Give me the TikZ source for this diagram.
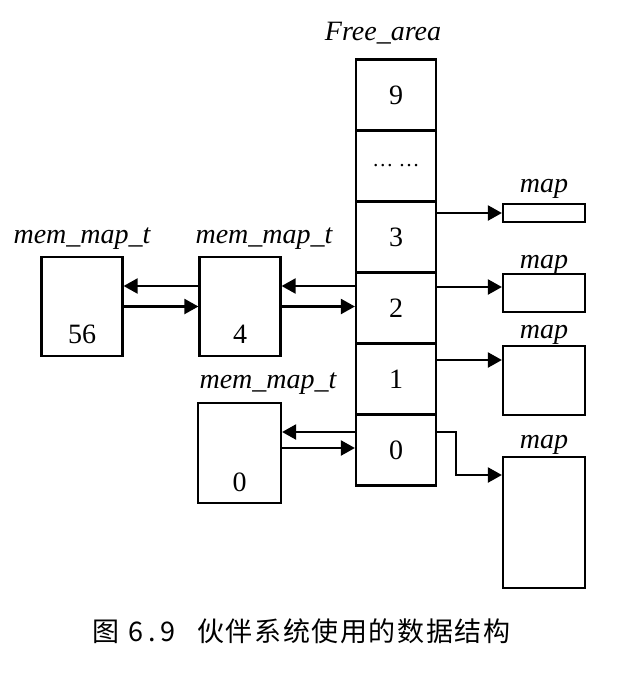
\documentclass[tikz,border=0pt]{standalone}
\usepackage{fontspec}
\setmainfont{Liberation Serif}
\newfontfamily\cjk[LetterSpace=6]{Noto Sans CJK SC}
\newfontfamily\cjkd[LetterSpace=18]{Noto Sans CJK SC}
\usetikzlibrary{arrows.meta}
\begin{document}
\begin{tikzpicture}[x=1pt,y=-1pt,
  box/.style={draw, line width=2.2pt, inner sep=0pt},
  cell/.style={box, minimum width=80pt, minimum height=71pt, font=\fontsize{28}{30}\selectfont},
  lbl/.style={inner sep=0pt, anchor=base, font=\fontsize{28}{30}\selectfont\itshape},
  num/.style={inner sep=0pt, anchor=base, font=\fontsize{28}{30}\selectfont},
  captxt/.style={inner sep=0pt, anchor=base west},
  arr/.style={line width=2.2pt, -{Triangle[length=14pt,width=15pt]}}]
\useasboundingbox (0,0) rectangle (632,678);
% Free_area column
\node[cell] (c9) at (396,95) {9};
\node[cell] (cd) at (396,166) {\fontsize{21}{24}\selectfont\ldots\ \ldots};
\node[cell] (c3) at (396,237) {3};
\node[cell] (c2) at (396,308) {2};
\node[cell] (c1) at (396,379) {1};
\node[cell] (c0) at (396,450) {0};
\node[lbl] (fa) at (383,40) {Free\_area};
% mem_map_t boxes
\node[box, minimum width=81pt, minimum height=99pt] (A) at (82,306.5) {};
\node[box, minimum width=81pt, minimum height=99pt] (B) at (240,306.5) {};
\node[box, minimum width=83pt, minimum height=100pt] (C) at (239.5,453) {};
\node[lbl] (lA) at (82,243) {mem\_map\_t};
\node[lbl] (lB) at (264,243) {mem\_map\_t};
\node[lbl] (lC) at (268,388) {mem\_map\_t};
\node[num] (nA) at (82,343) {56};
\node[num] (nB) at (240,343) {4};
\node[num] (nC) at (239.5,491) {0};
% map boxes
\node[box, minimum width=82pt, minimum height=18pt] (m1) at (544,213) {};
\node[box, minimum width=82pt, minimum height=38pt] (m2) at (544,293) {};
\node[box, minimum width=82pt, minimum height=69pt] (m3) at (544,380.5) {};
\node[box, minimum width=82pt, minimum height=131pt] (m4) at (544,522.5) {};
\node[lbl] (lm1) at (544,192) {map};
\node[lbl] (lm2) at (544,268) {map};
\node[lbl] (lm3) at (544,338) {map};
\node[lbl] (lm4) at (544,448) {map};
% helper coordinates
\coordinate (uAB) at ([yshift=20.5pt]B.west);
\coordinate (dAB) at (B.west);
\coordinate (uBc) at ([yshift=20.5pt]B.east);
\coordinate (dBc) at (B.east);
\coordinate (uC) at ([yshift=21pt]C.east);
\coordinate (dC) at ([yshift=5pt]C.east);
\coordinate (p2) at ([yshift=6pt]m2.west);
\coordinate (p3) at ([yshift=20.5pt]m3.west);
\coordinate (p4) at ([yshift=47.5pt]m4.west);
\coordinate (s0) at ([yshift=18pt]c0.east);
\coordinate (k1) at (456,432);
\coordinate (k2) at (456,475);
% arrows between mem_map_t
\draw[arr] (uAB) -- (uAB -| A.east);
\draw[arr] (A.east |- dAB) -- (dAB);
\draw[arr] (uBc -| c2.west) -- (uBc);
\draw[arr] (dBc) -- (dBc -| c2.west);
\draw[arr] (uC -| c0.west) -- (uC);
\draw[arr] (dC) -- (dC -| c0.west);
% arrows to map
\draw[arr] (c3.east |- m1.west) -- (m1.west);
\draw[arr] (c2.east |- p2) -- (p2);
\draw[arr] (c1.east |- p3) -- (p3);
\draw[arr] (s0) -- (k1) -- (k2) -- (p4);
% caption
\node[captxt, font=\fontsize{27}{30}\selectfont\cjk] (cap1) at (92,641) {图};
\node[captxt, font=\fontsize{27}{30}\selectfont\cjkd] (cap2) at (128,641) {6.9};
\node[captxt, font=\fontsize{27}{30}\selectfont\cjk] (cap3) at (197,641) {伙伴系统使用的数据结构};
\end{tikzpicture}
\end{document}
